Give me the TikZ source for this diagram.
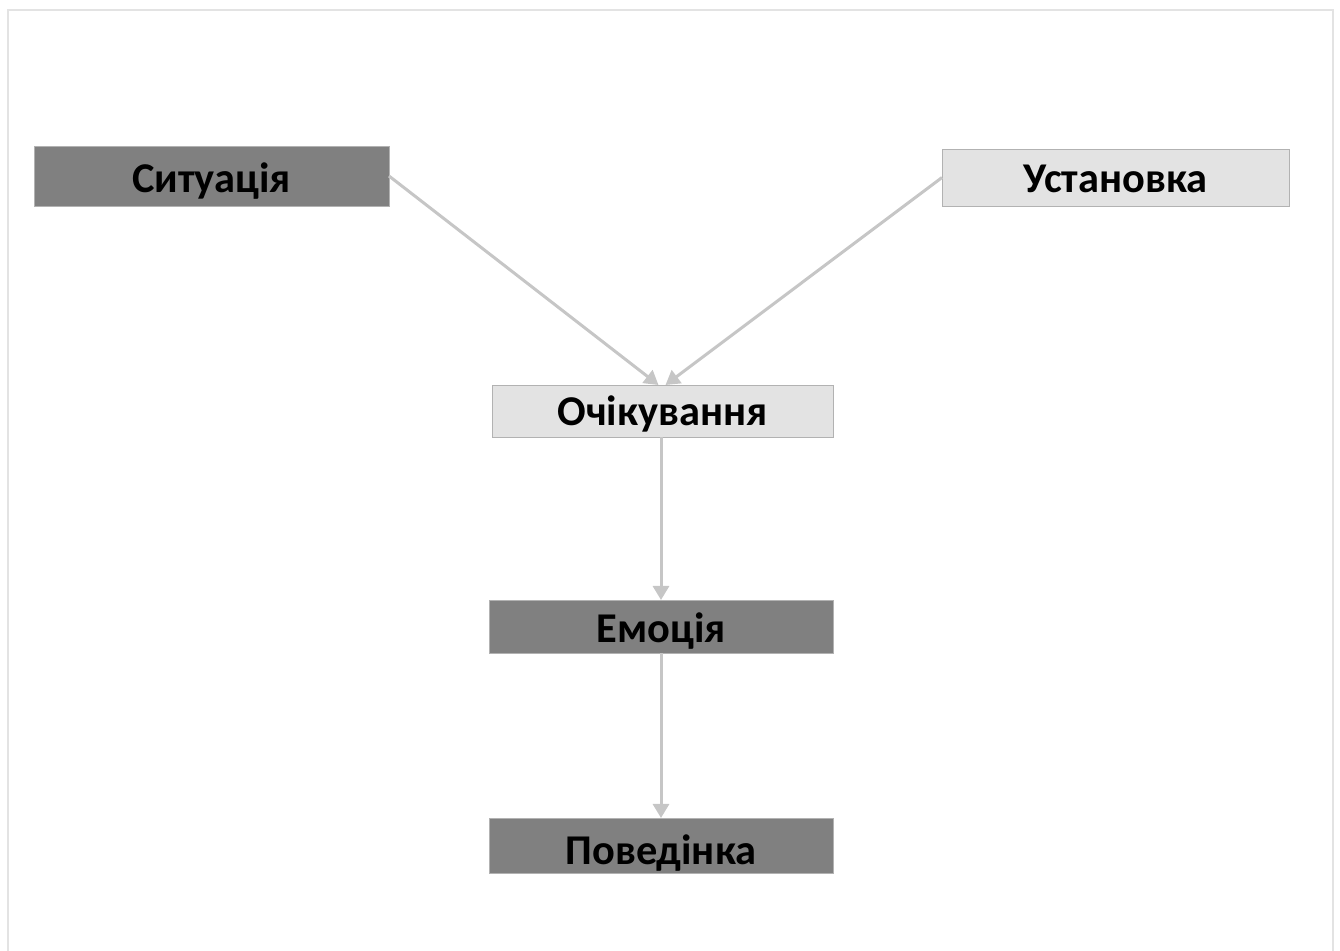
\documentclass[tikz,border=0pt]{standalone}
\usepackage{fontspec}
\setmainfont{Carlito}
\usetikzlibrary{shapes,arrows,arrows.meta,positioning}

\begin{document}
\begin{tikzpicture}[x=0.5pt,y=-0.5pt,
				box/.style={fill=#1,draw=gray!60,line width=0.3pt,inner sep=0pt,outer sep=0pt,
					text height=16pt,text depth=0pt,
					font=\fontsize{21.2}{24}\selectfont\bfseries,text=black},
				darkbox/.style={box=gray},
				lightbox/.style={box=gray!22},
				link/.style={draw=gray!45,line width=1.5pt,-{Triangle[width=8pt,length=7pt]}}]
				\useasboundingbox (0,0) rectangle (1340,951);
				\draw[gray!22,line width=1pt] (8,10) rectangle (1333,970);
				% top row
				\node (sit) [darkbox,minimum width=177.5pt,minimum height=30pt,text height=16.6pt] at (211.5,176) {Ситуація};
				\node (ust) [lightbox,minimum width=173.5pt,minimum height=28.5pt,text height=15.5pt] at (1115.5,177.5) {Установка};
				% chain
				\node (och) [lightbox,minimum width=170.5pt,minimum height=26pt,text height=15pt] at (662.5,411) {Очікування};
				\node (emo) [darkbox,minimum width=172pt,minimum height=26.5pt,below=81.5pt of och.south,anchor=north,xshift=-0.75pt] {Емоція};
				\node (pov) [darkbox,minimum width=172pt,minimum height=27.5pt,text height=19.5pt,below=82.5pt of emo.south,anchor=north] {Поведінка};
				\draw[link] (sit.east) -- ([xshift=-2pt]och.north);
				\draw[link] (ust.west) -- ([xshift=1.5pt]och.north);
				\draw[link] (och.south -| emo.north) -- (emo.north);
				\draw[link] (emo.south) -- (pov.north);
				\end{tikzpicture}
\end{document}
